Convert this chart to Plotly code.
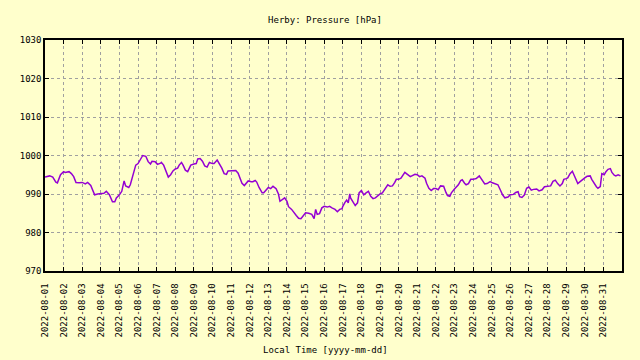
import pandas as pd
import plotly.graph_objects as go

# Hours since 2022-08-01 00:00 local time, and pressure readings [hPa]
hours_since_start = [
    0, 6, 10, 14, 16, 20, 24, 26, 31, 34, 37, 40, 44, 48, 52, 55, 59, 64, 68, 72,
    76, 79, 83, 87, 90, 92, 96, 99, 102, 104, 108, 110, 114, 117, 120, 123, 126, 130, 133, 136,
    138, 142, 145, 149, 150, 153, 156, 159, 162, 165, 168, 171, 173, 176, 178, 181, 184, 188, 192, 195,
    197, 200, 203, 206, 209, 212, 216, 218, 222, 224, 228, 231, 234, 236, 240, 242, 246, 249, 252, 254,
    257, 260, 262, 266, 268, 271, 273, 276, 280, 282, 285, 288, 291, 294, 298, 301, 303, 306, 309, 312,
    314, 318, 321, 324, 327, 330, 332, 335, 336, 340, 344, 347, 349, 351, 354, 357, 360, 364, 367, 370,
    374, 377, 380, 383, 384, 387, 389, 391, 393, 394, 397, 400, 403, 405, 408, 411, 414, 417, 420, 423,
    426, 429, 432, 435, 438, 442, 445, 448, 451, 453, 456, 459, 464, 467, 471, 473, 477, 480, 483, 486,
    490, 492, 495, 498, 501, 504, 507, 510, 514, 517, 519, 522, 524, 528, 530, 533, 536, 538, 541, 543,
    546, 549, 552, 556, 560, 563, 567, 570, 574, 576, 580, 584, 587, 590, 593, 597, 600, 604, 607, 610,
    612, 615, 618, 621, 624, 627, 630, 634, 637, 641, 644, 648, 652, 655, 658, 661, 664, 667, 669, 672,
    674, 677, 680, 682, 685, 687, 690, 693, 696, 699, 703, 705, 708, 711, 713, 716, 718, 721, 723, 726,
    729, 731, 734, 736, 739, 742,
]
pressure_hpa = [
    994.4, 994.7, 994.4, 993.1, 992.9, 995.0, 995.8, 995.6, 995.8, 995.3, 994.5, 993.0, 992.9, 993.0, 992.6, 993.0, 992.2, 989.8, 990.0, 990.2,
    990.2, 990.7, 989.8, 988.0, 988.0, 989.0, 989.8, 990.7, 993.4, 992.1, 991.7, 992.4, 995.0, 997.5, 997.9, 999.1, 1000.0, 999.8, 998.4, 997.8,
    998.5, 998.4, 997.7, 998.0, 998.2, 997.5, 995.8, 994.4, 995.0, 996.0, 996.5, 996.7, 997.5, 998.2, 997.5, 996.2, 995.8, 997.5, 997.8, 997.9,
    999.1, 999.2, 998.5, 997.3, 997.0, 998.2, 997.9, 997.9, 998.8, 998.2, 996.7, 995.3, 995.1, 996.0, 996.1, 996.0, 996.1, 995.4, 994.1, 992.8,
    992.2, 992.8, 993.4, 993.2, 993.2, 993.5, 993.1, 991.7, 990.3, 990.3, 991.1, 991.7, 991.4, 992.0, 991.4, 990.0, 988.1, 988.5, 989.0, 988.1,
    986.7, 986.0, 985.1, 984.4, 983.7, 983.6, 984.1, 985.0, 985.1, 985.0, 984.7, 983.6, 986.0, 984.7, 984.9, 986.4, 986.8, 986.6, 986.8, 986.4,
    986.0, 985.4, 986.0, 986.2, 986.8, 987.9, 988.4, 987.7, 990.0, 989.0, 987.9, 987.0, 987.7, 990.3, 990.9, 989.8, 990.3, 990.7, 989.4, 988.8,
    989.0, 989.6, 990.0, 990.3, 991.1, 992.4, 992.0, 992.1, 993.0, 993.8, 993.8, 994.1, 995.6, 995.2, 994.5, 994.7, 995.1, 995.0, 994.5, 994.7,
    994.1, 992.8, 991.5, 990.9, 991.4, 991.4, 991.1, 992.1, 992.0, 990.4, 989.6, 989.4, 990.3, 991.3, 991.8, 992.4, 993.5, 993.7, 992.8, 992.4,
    992.7, 993.8, 993.8, 994.0, 994.7, 993.7, 992.6, 992.7, 993.2, 993.0, 992.8, 992.4, 991.1, 989.8, 989.0, 989.2, 989.8, 989.9, 990.4, 990.6,
    989.3, 989.1, 989.7, 991.5, 991.8, 991.0, 991.2, 991.3, 990.8, 991.1, 991.9, 992.1, 992.1, 993.3, 993.6, 992.7, 992.1, 992.7, 993.8, 994.0,
    994.2, 995.3, 995.9, 995.0, 993.8, 992.7, 993.2, 993.8, 994.2, 994.6, 994.7, 993.8, 992.7, 991.9, 991.5, 991.9, 995.3, 995.0, 995.7, 996.4,
    996.6, 995.6, 994.9, 994.7, 995.0, 994.7,
]
start_time = "2022-08-01 00:00"
end_time = "2022-09-01 00:00"
tick_dates = [f"2022-08-{d:02d}" for d in range(1, 32)]
y_ticks = [970, 980, 990, 1000, 1010, 1020, 1030]
title_text = "Herby: Pressure [hPa]"
x_title_text = "Local Time [yyyy-mm-dd]"

times = pd.Timestamp(start_time) + pd.to_timedelta(hours_since_start, unit="h")

FONT = "DejaVu Sans Mono"
BG = "#FFFFCC"
GRID = "#A0A0A0"

fig = go.Figure()
fig.add_trace(go.Scatter(
    x=times, y=pressure_hpa, mode="lines",
    line=dict(color="#9400D3", width=1.5),
    hoverinfo="x+y", showlegend=False,
))

axis_common = dict(
    showline=True, linecolor="black", linewidth=1.5, mirror="allticks",
    ticks="inside", ticklen=4, tickcolor="black",
    showgrid=True, gridcolor=GRID, griddash="3px,3px", gridwidth=1,
    zeroline=False, tickfont=dict(family=FONT, size=9, color="black"),
    automargin=False,
)

fig.update_layout(
    width=640, height=360,
    paper_bgcolor=BG, plot_bgcolor=BG,
    margin=dict(l=45, r=18, t=40, b=89),
    font=dict(family=FONT, size=9, color="black"),
    title=dict(text=title_text, x=325 / 640, xanchor="center",
               y=1 - 20 / 360, yanchor="middle", yref="container",
               font=dict(family=FONT, size=9, color="black")),
    xaxis=dict(
        type="date", range=[start_time, end_time],
        tickvals=tick_dates, ticktext=tick_dates, tickangle=-90,
        ticklabelstandoff=7,
        **axis_common,
    ),
    yaxis=dict(
        range=[970, 1030], tickvals=y_ticks, ticksuffix=" ",
        **axis_common,
    ),
    annotations=[dict(
        text=x_title_text, xref="paper", yref="paper",
        x=(325 - 45) / (622 - 45), y=-(350 - 271) / (271 - 40),
        xanchor="center", yanchor="middle", showarrow=False,
        font=dict(family=FONT, size=9, color="black"),
    )],
)

fig.write_html("out.html", post_script="document.body.style.margin='0';",
               config={"displayModeBar": False})
